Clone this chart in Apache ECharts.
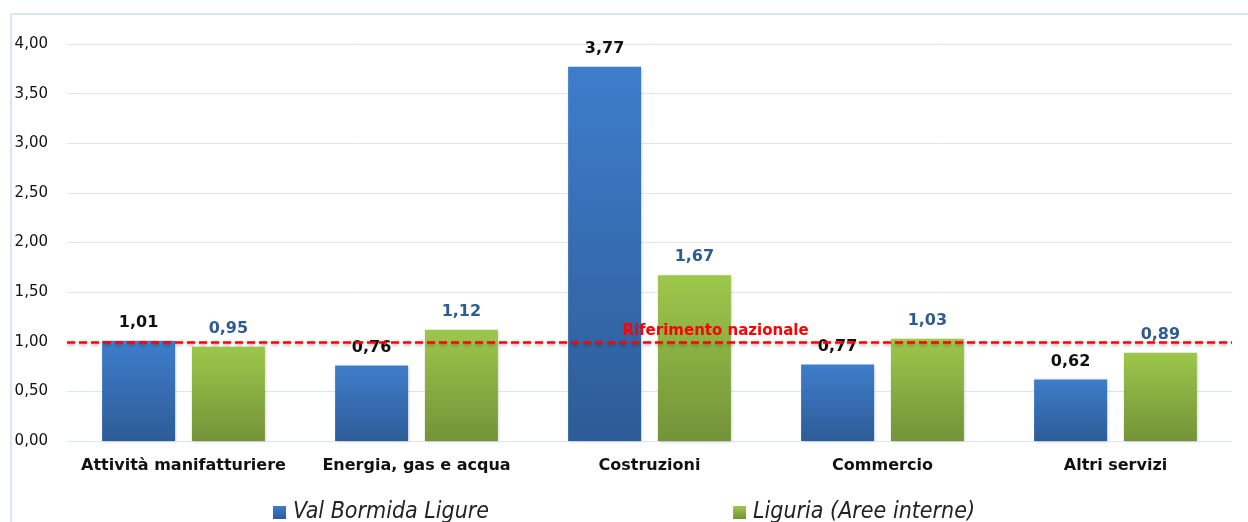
<!DOCTYPE html>
<html>
<head>
<meta charset="utf-8">
<script src="https://cdn.jsdelivr.net/npm/echarts@6/dist/echarts.min.js"></script>
<style>
  html, body { margin: 0; padding: 0; background: #fff; overflow: hidden; }
  #frame { position: absolute; left: 10px; top: 13px; width: 1400px; height: 700px; border: 2px solid #DCE6F2; }
  #chart { position: absolute; left: 0; top: 0; width: 1248px; height: 522px; }
</style>
</head>
<body>
<div id="frame"></div>
<div id="chart"></div>
<script>
// indici di specializzazione per settore
const categories = ['Attività manifatturiere', 'Energia, gas e acqua', 'Costruzioni', 'Commercio', 'Altri servizi'];
const valBormida = [1.01, 0.76, 3.77, 0.77, 0.62];
const liguria = [0.95, 1.12, 1.67, 1.03, 0.89];
const riferimento = 1;
const seriesNames = ['Val Bormida Ligure', 'Liguria (Aree interne)'];

const FONT = 'DejaVu Sans';
const fmt = v => v.toFixed(2).replace('.', ',');

const grad = (top, bottom) => new echarts.graphic.LinearGradient(0, 0, 0, 1, [
  { offset: 0, color: top },
  { offset: 1, color: bottom }
]);

const chart = echarts.init(document.getElementById('chart'), null, { renderer: 'canvas' });

chart.setOption({
  animation: false,
  grid: { left: 67, right: 16, top: 44, bottom: 81, containLabel: false, outerBoundsMode: 'none' },
  legend: {
    bottom: -7,
    left: 'center',
    itemGap: 244,
    itemWidth: 13,
    itemHeight: 13,
    icon: 'rect',
    textStyle: { fontFamily: 'DejaVu Sans Condensed', fontStyle: 'italic', fontSize: 23, color: '#222', padding: [0, 0, 0, 2] },
    data: seriesNames
  },
  xAxis: {
    type: 'category',
    data: categories,
    axisLine: { show: true, lineStyle: { color: '#DCE6F2', width: 1 } },
    axisTick: { show: false },
    axisLabel: { interval: 0, fontFamily: FONT, fontWeight: 'bold', fontSize: 16, color: '#111', margin: 17 }
  },
  yAxis: {
    type: 'value',
    min: 0,
    max: 4,
    interval: 0.5,
    axisLine: { show: false },
    axisTick: { show: false },
    splitLine: { lineStyle: { color: '#DCE6F2', width: 1 } },
    axisLabel: { fontFamily: FONT, fontSize: 15, color: '#111', margin: 19, formatter: v => fmt(v) }
  },
  series: [
    {
      name: seriesNames[0],
      type: 'bar',
      data: valBormida,
      barWidth: 73,
      barGap: '23%',
      itemStyle: { color: grad('#3E7DCB', '#2D5C97'), shadowColor: 'rgba(0,0,0,0.2)', shadowBlur: 3, shadowOffsetX: 1, shadowOffsetY: 1 },
      label: { show: true, position: 'top', distance: 10, fontFamily: FONT, fontWeight: 'bold', fontSize: 16, color: '#111', formatter: p => fmt(p.value) },
      markLine: {
        silent: true,
        symbol: 'none',
        data: [{ yAxis: riferimento }],
        lineStyle: { color: '#FF0000', type: [8, 4], width: 2.5, shadowColor: 'rgba(0,0,0,0.25)', shadowBlur: 3, shadowOffsetY: 2 },
        label: {
          show: true,
          position: 'insideMiddleTop',
          offset: [66, 2],
          formatter: 'Riferimento nazionale',
          fontFamily: FONT,
          fontWeight: 'bold',
          fontSize: 15,
          color: '#FF0000'
        }
      }
    },
    {
      name: seriesNames[1],
      type: 'bar',
      data: liguria,
      barWidth: 73,
      itemStyle: { color: grad('#9DC74B', '#739338'), shadowColor: 'rgba(0,0,0,0.2)', shadowBlur: 3, shadowOffsetX: 1, shadowOffsetY: 1 },
      label: { show: true, position: 'top', distance: 10, fontFamily: FONT, fontWeight: 'bold', fontSize: 16, color: '#2E5C91', formatter: p => fmt(p.value) }
    }
  ]
});
</script>
</body>
</html>
